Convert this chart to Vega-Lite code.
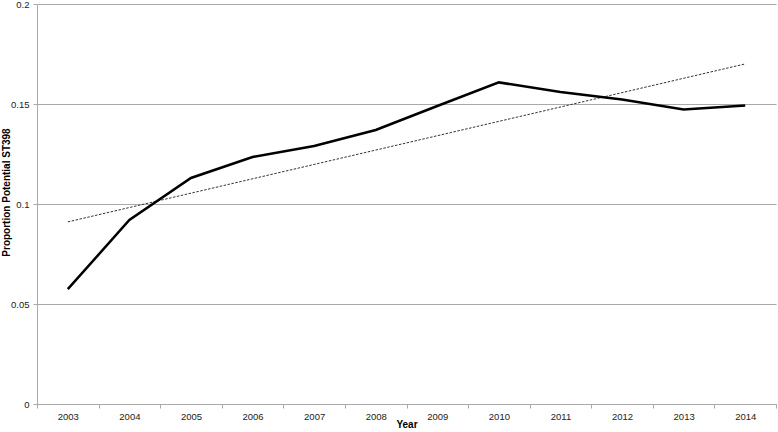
{
  "$schema": "https://vega.github.io/schema/vega-lite/v6.json",
  "autosize": "none",
  "width": 739,
  "height": 400,
  "padding": {"left": 37, "top": 4, "right": 2, "bottom": 28},
  "background": "white",
  "config": {
    "view": {"stroke": null},
    "font": "Liberation Sans",
    "axis": {"labelFont": "Liberation Sans", "titleFont": "Liberation Sans", "labelColor": "#222", "titleColor": "#000"}
  },
  "data": {"values": [
    {"year": 2003, "value": 0.0574},
    {"year": 2004, "value": 0.092},
    {"year": 2005, "value": 0.113},
    {"year": 2006, "value": 0.1235},
    {"year": 2007, "value": 0.129},
    {"year": 2008, "value": 0.137},
    {"year": 2009, "value": 0.149},
    {"year": 2010, "value": 0.1608},
    {"year": 2011, "value": 0.156},
    {"year": 2012, "value": 0.1523},
    {"year": 2013, "value": 0.1473},
    {"year": 2014, "value": 0.1493}
  ]},
  "encoding": {
    "x": {
      "field": "year", "type": "ordinal",
      "scale": {"type": "band", "paddingInner": 0, "paddingOuter": 0},
      "axis": {"title": "Year", "titleFontWeight": "bold", "titleFontSize": 10,
               "titleY": 20, "titleBaseline": "middle",
               "labelAngle": 0, "labelFontSize": 9.5, "labelPadding": 3,
               "tickBand": "extent", "tickSize": 4, "tickColor": "#aaa", "domainColor": "#aaa", "grid": false}
    },
    "y": {
      "field": "value", "type": "quantitative",
      "scale": {"domain": [0, 0.2], "nice": false},
      "axis": {"title": "Proportion Potential ST398", "titleFontWeight": "bold", "titleFontSize": 10,
               "titleX": -31, "titleY": 188, "titleAngle": -90, "titleBaseline": "middle", "titleAlign": "center",
               "values": [0, 0.05, 0.1, 0.15, 0.2], "format": "~g", "labelFontSize": 9.5, "labelPadding": 4,
               "tickSize": 4, "tickColor": "#aaa", "domainColor": "#aaa", "grid": true, "gridColor": "#aaa", "gridWidth": 1}
    }
  },
  "layer": [
    {
      "transform": [{"regression": "value", "on": "year"}],
      "mark": {"type": "line", "color": "#333", "strokeWidth": 1, "strokeDash": [2.5, 1.5]}
    },
    {
      "mark": {"type": "line", "color": "#000", "strokeWidth": 2.5}
    }
  ]
}
